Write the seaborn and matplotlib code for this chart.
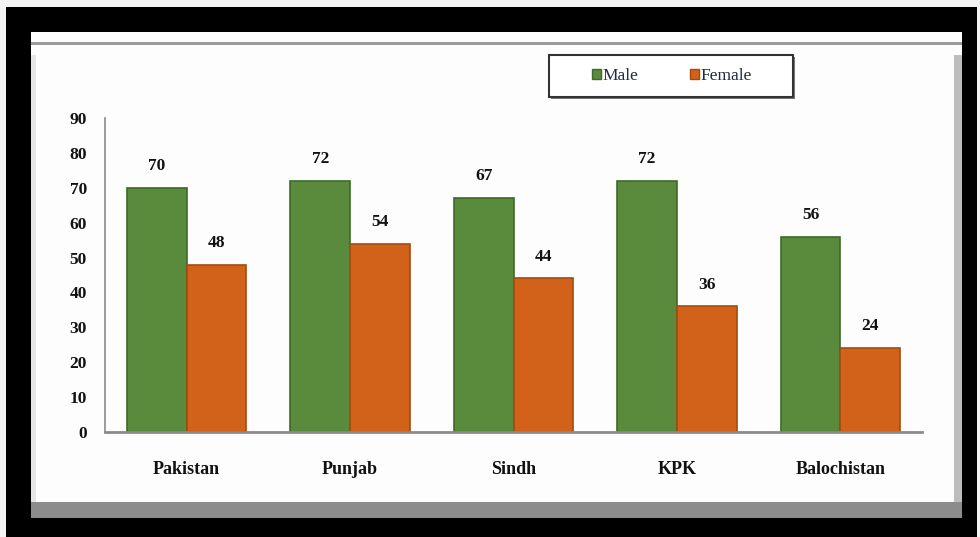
import matplotlib
matplotlib.use("Agg")
import matplotlib.pyplot as plt
import seaborn as sns
import pandas as pd
from matplotlib.patches import Rectangle, Patch

regions = ["Pakistan", "Punjab", "Sindh", "KPK", "Balochistan"]
male = [70, 72, 67, 72, 56]
female = [48, 54, 44, 36, 24]
series = ["Male", "Female"]
yticks = [0, 10, 20, 30, 40, 50, 60, 70, 80, 90]

df = pd.DataFrame({
    "Region": regions * 2,
    "Value": male + female,
    "Sex": ["Male"] * len(regions) + ["Female"] * len(regions),
})

sns.set_theme(style="white")
plt.rcParams["font.family"] = ["Liberation Serif", "DejaVu Serif"]

W, H = 980, 537
fig = plt.figure(figsize=(9.8, 5.37), dpi=100)
fig.patch.set_facecolor("black")

def fx(x):
    return x / W

def fy(y):
    return 1 - y / H

def rect(x0, y0, x1, y1, z=-1, **kw):
    fig.patches.append(Rectangle((fx(x0), fy(y1)), fx(x1 - x0), (y1 - y0) / H,
                                 transform=fig.transFigure, zorder=z, **kw))

rect(0, 0, 980, 7, facecolor="#f4f4f4", edgecolor="none")
rect(0, 0, 6, 537, facecolor="#f4f4f4", edgecolor="none")
rect(977, 0, 980, 537, facecolor="#f4f4f4", edgecolor="none")
rect(31, 32, 962, 518, facecolor="#8c8c8c", edgecolor="none")
rect(31, 32, 962, 502, facecolor="#fdfdfd", edgecolor="none")
rect(31, 42, 962, 45, facecolor="#9a9a9a", edgecolor="none")
rect(31, 55, 36, 502, facecolor="#e6e6e6", edgecolor="none")
rect(954, 55, 962, 502, facecolor="#bdbdbd", edgecolor="none")

ax = fig.add_axes([fx(105), fy(432), fx(922 - 105), (432 - 118) / H])
ax.set_facecolor("none")
ax.set_zorder(3)

palette = {"Male": "#5a8a3c", "Female": "#d2621a"}
sns.barplot(data=df, x="Region", y="Value", hue="Sex", order=regions,
            hue_order=series, palette=palette, width=0.73, gap=0,
            saturation=1, ax=ax, legend=False, edgecolor="none")

edgecols = {"Male": "#3f6a28", "Female": "#a44a10"}
for cont, s in zip(ax.containers, series):
    for bar in cont:
        bar.set_edgecolor(edgecols[s])
        bar.set_linewidth(1.2)
    ax.bar_label(cont, labels=[f"{int(v)}" for v in cont.datavalues],
                 padding=10, fontsize=12.5, fontweight="bold", color="#111111")

ax.set_ylim(0, 90)
ax.set_yticks(yticks)
ax.set_xlim(-0.5, len(regions) - 0.5)
ax.set_xlabel("")
ax.set_ylabel("")
for side in ["top", "right"]:
    ax.spines[side].set_visible(False)
ax.spines["left"].set_color("#8a8a8a")
ax.spines["left"].set_linewidth(1.2)
ax.spines["bottom"].set_color("#8a8a8a")
ax.spines["bottom"].set_linewidth(2)
ax.tick_params(axis="y", length=0, pad=13, labelsize=12.5)
ax.tick_params(axis="x", length=0, pad=21, labelsize=13)
for t in ax.get_yticklabels() + ax.get_xticklabels():
    t.set_fontweight("bold")
    t.set_color("#111111")

# legend box with shadow
rect(551, 57, 795, 99, z=1, facecolor="#7a7a7a", edgecolor="none")
rect(549, 55, 793, 97, z=2, facecolor="white", edgecolor="#333333", linewidth=1.5)
handles = [Patch(facecolor=palette[s], edgecolor=edgecols[s], label=s) for s in series]
leg = fig.legend(handles=handles, loc="center", bbox_to_anchor=(fx(672), fy(76)),
                 ncol=2, frameon=False, handlelength=0.5, handleheight=0.5,
                 handletextpad=0.1, columnspacing=3.0,
                 prop={"family": "Liberation Serif", "size": 12.5})
leg.set_zorder(4)
for t in leg.get_texts():
    t.set_color("#1f2a44")

fig.savefig("out.png", dpi=100, facecolor=fig.get_facecolor())
